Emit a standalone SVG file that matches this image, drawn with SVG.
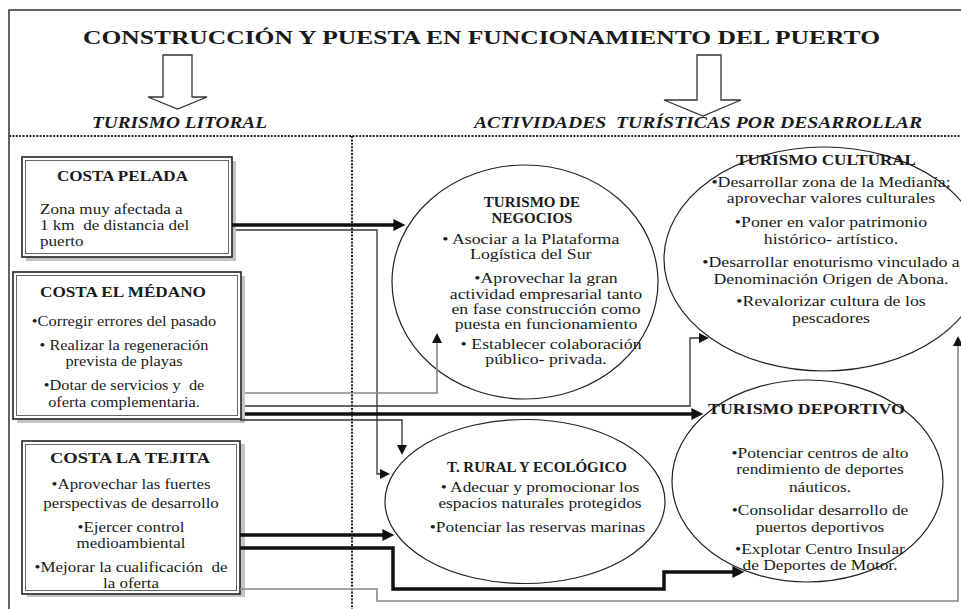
<svg xmlns="http://www.w3.org/2000/svg" width="961" height="609" viewBox="0 0 961 609">
<style>
.t{font-family:"Liberation Serif","Times New Roman",serif;fill:#1a1a1a}
.title{font-size:19px;font-weight:bold}
.sec{font-size:16px;font-weight:bold;font-style:italic;white-space:pre}
.h{font-size:15px;font-weight:bold}
.b{font-size:14px;white-space:pre}
.frame{fill:none;stroke:#333;stroke-width:1.5}
.dot{fill:none;stroke:#222;stroke-width:2;stroke-dasharray:2 1.4}
.blk{fill:#fff;stroke:#333;stroke-width:1.3}
.shadow{fill:#c4c4c4}
.outer{fill:#fff;stroke:#222;stroke-width:1.6}
.inner{fill:none;stroke:#666;stroke-width:1}
.ell{fill:#fff;stroke:#222;stroke-width:1.2}
.thick{fill:none;stroke:#111;stroke-width:3.5}
.thin{fill:none;stroke:#333;stroke-width:1.3}
.gray{fill:none;stroke:#888;stroke-width:1.6}
</style>
<defs>
<marker id="ah" viewBox="0 0 10 10" markerUnits="userSpaceOnUse" markerWidth="17" markerHeight="12" refX="3" refY="5" orient="auto"><path d="M0,0 L10,5 L0,10 z" fill="#111"/></marker>
<marker id="as" viewBox="0 0 10 10" markerUnits="userSpaceOnUse" markerWidth="14" markerHeight="10" refX="3" refY="5" orient="auto"><path d="M0,0 L10,5 L0,10 z" fill="#111"/></marker>
</defs>
<rect width="961" height="609" fill="#fff"/>

<g id="frame">
<path class="frame" d="M9,609 V10 H961"/>
<line class="dot" x1="9" y1="136" x2="961" y2="136"/>
<line class="dot" x1="352" y1="136" x2="352" y2="609"/>
</g>

<g id="header">
<text class="t title" x="83" y="44" textLength="797" lengthAdjust="spacingAndGlyphs">CONSTRUCCIÓN Y PUESTA EN FUNCIONAMIENTO DEL PUERTO</text>
<path class="blk" d="M163,55 H192 V97 H207 L177.5,109 L148,97 H163 Z"/>
<path class="blk" d="M697,55 H721 V100 H741 L703,116 L664,100 H697 Z"/>
<text class="t sec" x="92" y="128" textLength="175" lengthAdjust="spacingAndGlyphs">TURISMO LITORAL</text>
<text class="t sec" x="474" y="128" textLength="448" lengthAdjust="spacingAndGlyphs">ACTIVIDADES  TURÍSTICAS POR DESARROLLAR</text>
</g>

<g id="costa-pelada">
<rect class="shadow" x="26" y="161" width="210" height="100"/>
<rect class="outer" x="22" y="157" width="210" height="100"/>
<rect class="inner" x="25.5" y="160.5" width="203" height="93"/>
<text class="t h" x="122.5" y="181" text-anchor="middle" textLength="131" lengthAdjust="spacingAndGlyphs">COSTA PELADA</text>
<g transform="translate(40,0) scale(1.22,1)">
<text class="t b" x="0" y="214">Zona muy afectada a</text>
<text class="t b" x="0" y="230.5">1 km  de distancia del</text>
<text class="t b" x="0" y="246">puerto</text>
</g>
</g>

<g id="costa-el-medano">
<rect class="shadow" x="17" y="276" width="228" height="147"/>
<rect class="outer" x="13" y="272" width="228" height="147"/>
<rect class="inner" x="16.5" y="275.5" width="221" height="140"/>
<text class="t h" x="123" y="297" text-anchor="middle" textLength="166" lengthAdjust="spacingAndGlyphs">COSTA EL MÉDANO</text>
<g transform="translate(124,0) scale(1.17,1)" text-anchor="middle">
<text class="t b" x="0" y="326.5">•Corregir errores del pasado</text>
<text class="t b" x="0" y="350.5">• Realizar la regeneración</text>
<text class="t b" x="0" y="366.5">prevista de playas</text>
<text class="t b" x="0" y="390.5">•Dotar de servicios y  de</text>
<text class="t b" x="0" y="407">oferta complementaria.</text>
</g>
</g>

<g id="costa-la-tejita">
<rect class="shadow" x="27" y="444" width="218" height="153"/>
<rect class="outer" x="22" y="441" width="218" height="153"/>
<rect class="inner" x="25.5" y="444.5" width="211" height="146"/>
<text class="t h" x="130" y="463" text-anchor="middle" textLength="160" lengthAdjust="spacingAndGlyphs">COSTA LA TEJITA</text>
<g transform="translate(131,0) scale(1.21,1)" text-anchor="middle">
<text class="t b" x="0" y="489">•Aprovechar las fuertes</text>
<text class="t b" x="0" y="508">perspectivas de desarrollo</text>
<text class="t b" x="0" y="532">•Ejercer control</text>
<text class="t b" x="0" y="548">medioambiental</text>
<text class="t b" x="0" y="572">•Mejorar la cualificación  de</text>
<text class="t b" x="0" y="588">la oferta</text>
</g>
</g>

<g id="turismo-negocios">
<ellipse class="ell" cx="525" cy="282" rx="133" ry="117"/>
<text class="t h" x="532" y="207" text-anchor="middle">TURISMO DE</text>
<text class="t h" x="532" y="223" text-anchor="middle">NEGOCIOS</text>
<g transform="translate(546,0) scale(1.27,1)" text-anchor="middle">
<text class="t b" x="-12" y="244">• Asociar a la Plataforma</text>
<text class="t b" x="-12" y="259">Logística del Sur</text>
<text class="t b" x="0" y="283">•Aprovechar la gran</text>
<text class="t b" x="0" y="299">actividad empresarial tanto</text>
<text class="t b" x="0" y="314">en fase construcción como</text>
<text class="t b" x="0" y="329">puesta en funcionamiento</text>
<text class="t b" x="4" y="349">• Establecer colaboración</text>
<text class="t b" x="0" y="364">público- privada.</text>
</g>
</g>

<g id="turismo-cultural">
<ellipse class="ell" cx="824" cy="259" rx="160" ry="112"/>
<text class="t h" x="826" y="165" text-anchor="middle" textLength="180" lengthAdjust="spacingAndGlyphs">TURISMO CULTURAL</text>
<g transform="translate(831,0) scale(1.27,1)" text-anchor="middle">
<text class="t b" x="0" y="187">•Desarrollar zona de la Medianía;</text>
<text class="t b" x="0" y="203">aprovechar valores culturales</text>
<text class="t b" x="0" y="227">•Poner en valor patrimonio</text>
<text class="t b" x="0" y="244">histórico- artístico.</text>
<text class="t b" x="0" y="267">•Desarrollar enoturismo vinculado a</text>
<text class="t b" x="0" y="284">Denominación Origen de Abona.</text>
<text class="t b" x="0" y="306">•Revalorizar cultura de los</text>
<text class="t b" x="0" y="323">pescadores</text>
</g>
</g>

<g id="turismo-rural">
<ellipse class="ell" cx="525" cy="501.5" rx="140" ry="82"/>
<text class="t h" x="537" y="472" text-anchor="middle" textLength="180" lengthAdjust="spacingAndGlyphs">T. RURAL Y ECOLÓGICO</text>
<g transform="translate(540,0) scale(1.24,1)" text-anchor="middle">
<text class="t b" x="0" y="492">• Adecuar y promocionar los</text>
<text class="t b" x="0" y="508">espacios naturales protegidos</text>
<text class="t b" x="-2" y="532">•Potenciar las reservas marinas</text>
</g>
</g>

<g id="turismo-deportivo">
<ellipse class="ell" cx="807.5" cy="481" rx="135.5" ry="101"/>
<text class="t h" x="806.5" y="414" text-anchor="middle" textLength="197" lengthAdjust="spacingAndGlyphs">TURISMO DEPORTIVO</text>
<g transform="translate(820,0) scale(1.24,1)" text-anchor="middle">
<text class="t b" x="0" y="458">•Potenciar centros de alto</text>
<text class="t b" x="0" y="474">rendimiento de deportes</text>
<text class="t b" x="0" y="492">náuticos.</text>
<text class="t b" x="0" y="515">•Consolidar desarrollo de</text>
<text class="t b" x="0" y="532">puertos deportivos</text>
<text class="t b" x="0" y="554">•Explotar Centro Insular</text>
<text class="t b" x="0" y="570">de Deportes de Motor.</text>
</g>
</g>

<g id="connectors">
<path class="thick" d="M232,225 H397" marker-end="url(#ah)"/>
<path class="thin" d="M236,230 H377 V474 H383" marker-end="url(#as)"/>
<path class="gray" d="M245,393 H437 V340" marker-end="url(#as)"/>
<path class="thin" d="M245,406 H690 V338 H702" marker-end="url(#as)"/>
<path class="thick" d="M245,414 H695" marker-end="url(#ah)"/>
<path class="thin" d="M240,420 H402 V448" marker-end="url(#as)"/>
<path class="thick" d="M240,535 H386" marker-end="url(#ah)"/>
<path class="thick" d="M240,548 H393 V589 H664 V572 H736" marker-end="url(#ah)"/>
<path class="gray" d="M240,589 H377 V601 H958 V343" marker-end="url(#as)"/>
</g>
</svg>
